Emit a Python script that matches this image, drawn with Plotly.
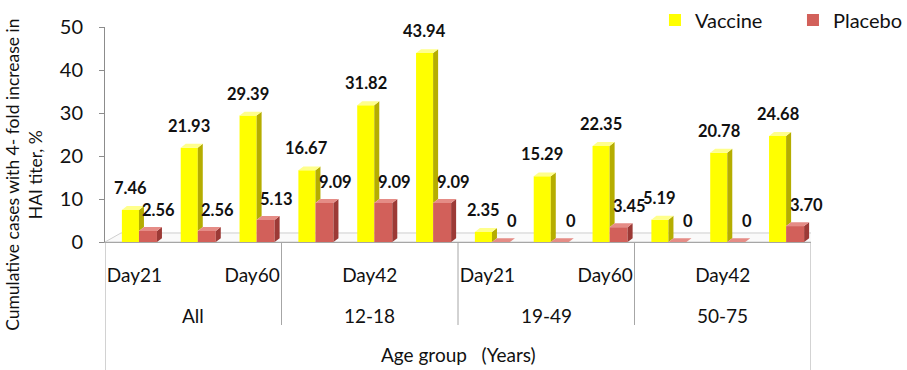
import plotly.graph_objects as go

# ---------------- data ----------------
groups = ["All", "12-18", "19-49", "50-75"]
days = ["Day21", "Day42", "Day60"]
vaccine = [7.46, 21.93, 29.39, 16.67, 31.82, 43.94, 2.35, 15.29, 22.35, 5.19, 20.78, 24.68]
placebo = [2.56, 2.56, 5.13, 9.09, 9.09, 9.09, 0, 0, 3.45, 0, 0, 3.70]
y_ticks = [0, 10, 20, 30, 40, 50]
x_title = "Age group\u00a0\u00a0\u00a0(Years)"
y_title = "Cumulative cases with 4- fold increase in<br>HAI titer, %"

FONT = "Lato"
n = len(vaccine)
idx = list(range(n))
day_of = [days[i % 3] for i in idx]
label_idx = idx[::2]  # Excel shows every other category label

# styling / geometry (in axis units)
V_FRONT, V_SIDE, V_TOP = "#FFFF00", "#B5AD00", "#FFFF8C"
P_FRONT, P_SIDE, P_TOP = "#D2605A", "#9C3A36", "#E58C86"
v_off, v_w = -0.213, 0.29
p_off, p_w = 0.077, 0.306
dx, dy = 0.085, 0.9          # depth of the 3D effect

fig = go.Figure()

# front faces
fig.add_trace(go.Bar(name="Vaccine", x=idx, y=vaccine, offset=v_off, width=v_w,
                     marker=dict(color=V_FRONT, line=dict(width=0))))
fig.add_trace(go.Bar(name="Placebo", x=idx, y=placebo, offset=p_off, width=p_w,
                     marker=dict(color=P_FRONT, line=dict(width=0))))


def poly_trace(xs, ys, color):
    return go.Scatter(x=xs, y=ys, mode="lines", fill="toself", fillcolor=color,
                      line=dict(width=0, color=color), hoverinfo="skip", showlegend=False)


# vaccine side + top
sx, sy, tx, ty = [], [], [], []
for i in idx:
    v, p = vaccine[i], placebo[i]
    x0 = i + v_off + v_w
    sx += [x0, x0 + dx, x0 + dx, x0, x0, None]
    sy += [p, p + dy, v + dy, v, p, None]
    xl = i + v_off
    tx += [xl, x0, x0 + dx, xl + dx, xl, None]
    ty += [v, v, v + dy, v + dy, v, None]
fig.add_trace(poly_trace(sx, sy, V_SIDE))
fig.add_trace(poly_trace(tx, ty, V_TOP))

# placebo side + top
sx, sy, tx, ty = [], [], [], []
for i in idx:
    p = placebo[i]
    x0 = i + p_off + p_w
    sx += [x0, x0 + dx, x0 + dx, x0, x0, None]
    sy += [0, dy, p + dy, p, 0, None]
    xl = i + p_off
    tx += [xl, x0, x0 + dx, xl + dx, xl, None]
    ty += [p, p, p + dy, p + dy, p, None]
fig.add_trace(poly_trace(sx, sy, P_SIDE))
fig.add_trace(poly_trace(tx, ty, P_TOP))


def fmt(v):
    return "0" if v == 0 else f"{v:.2f}"


annotations = []
for i in idx:
    annotations.append(dict(x=i + v_off + v_w / 2, y=vaccine[i], xref="x", yref="y",
                            text="<b>" + fmt(vaccine[i]) + "</b>", showarrow=False,
                            yanchor="bottom", yshift=10,
                            font=dict(family=FONT, size=16.5, color="#111")))
    annotations.append(dict(x=i + p_off + p_w / 2, y=placebo[i], xref="x", yref="y",
                            text="<b>" + fmt(placebo[i]) + "</b>", showarrow=False,
                            yanchor="bottom", yshift=9, xshift=11,
                            font=dict(family=FONT, size=16.5, color="#111")))

# group labels
for g, name in enumerate(groups):
    annotations.append(dict(x=g * 3 + 1, y=-0.34, xref="x", yref="paper", text=name,
                            showarrow=False, yanchor="middle",
                            font=dict(family=FONT, size=19, color="#111")))
annotations.append(dict(x=(n - 1) / 2, y=-0.525, xref="x", yref="paper", text=x_title,
                        showarrow=False, yanchor="middle",
                        font=dict(family=FONT, size=19, color="#111")))
annotations.append(dict(x=-0.114, y=0.31, xref="paper", yref="paper", text=y_title,
                        showarrow=False, textangle=-90, xanchor="center", yanchor="middle",
                        font=dict(family=FONT, size=17.5, color="#111")))

LINE = "#A6A6A6"
shapes = []
# 3D floor
fd_x, fd_y = 0.272, 2.1
shapes.append(dict(type="path", xref="x", yref="y", layer="below",
                   path=f"M -0.5 0 L {n - 0.5} 0 L {n - 0.5 + fd_x} {fd_y} L {-0.5 + fd_x} {fd_y} Z",
                   line=dict(color="#CFCFCF", width=1), fillcolor="#FAFAFA"))
# table lines
for g in range(1, len(groups)):
    xs = g * 3 - 0.5
    shapes.append(dict(type="line", xref="x", yref="paper", x0=xs, x1=xs, y0=0, y1=-0.386,
                       line=dict(color=LINE, width=1)))
for xs in (-0.5, n - 0.5):
    shapes.append(dict(type="line", xref="x", yref="paper", x0=xs, x1=xs, y0=0, y1=-0.62,
                       line=dict(color=LINE, width=1)))

fig.update_layout(
    width=907, height=370,
    margin=dict(l=105, r=96, t=27, b=128, autoexpand=False),
    paper_bgcolor="white", plot_bgcolor="white",
    barmode="overlay",
    font=dict(family=FONT, color="#111"),
    showlegend=True,
    legend=dict(orientation="h", x=0.779, y=1.033, xanchor="left", yanchor="middle",
                font=dict(family=FONT, size=20, color="#111"),
                entrywidth=93, entrywidthmode="pixels", bgcolor="rgba(0,0,0,0)"),
    annotations=annotations,
    shapes=shapes,
    xaxis=dict(range=[-0.5, n - 0.5], tickmode="array", tickvals=label_idx,
               ticktext=[day_of[i] for i in label_idx], showgrid=False, zeroline=False,
               showline=True, linecolor=LINE, linewidth=1, ticks="", ticklabelstandoff=16,
               tickfont=dict(family=FONT, size=19, color="#111")),
    yaxis=dict(range=[0, 50], tickmode="array", tickvals=y_ticks, showgrid=False,
               zeroline=False, showline=True, linecolor="#8C8C8C", linewidth=1,
               ticks="outside", ticklen=5, tickcolor="#8C8C8C", ticklabelstandoff=12,
               tickfont=dict(family=FONT, size=20, color="#111")),
)

fig.write_html("out.html")
